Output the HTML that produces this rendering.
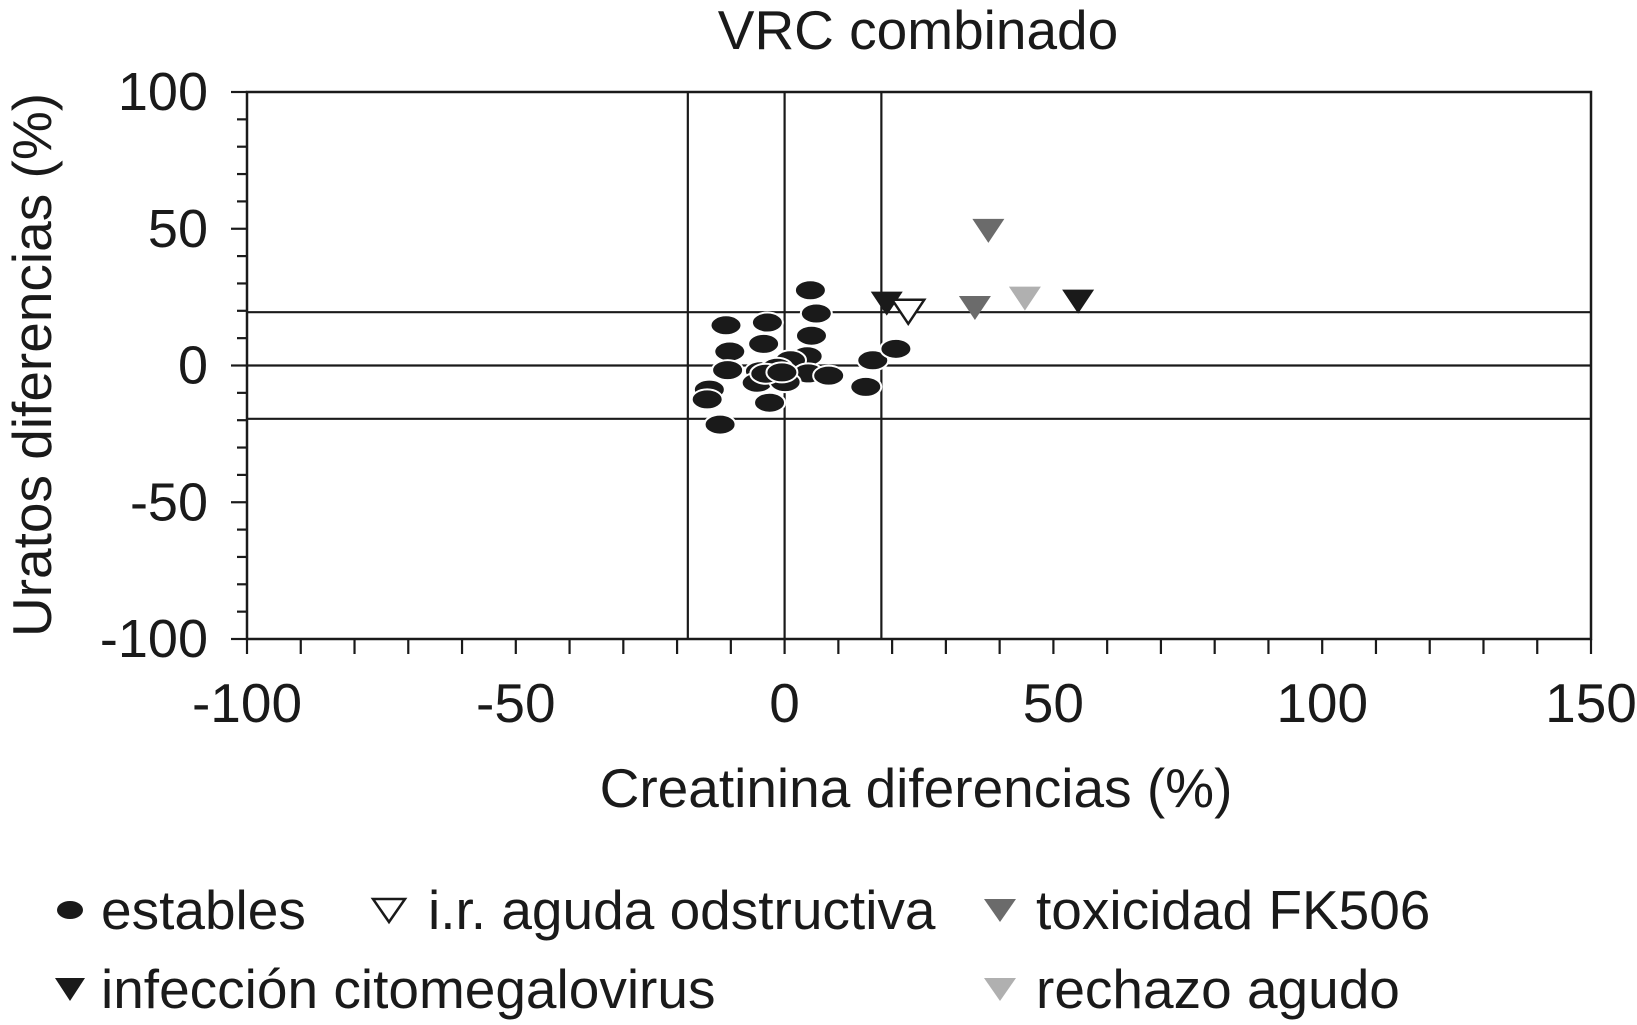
<!DOCTYPE html>
<html><head><meta charset="utf-8"><style>
html,body{margin:0;padding:0;background:#fff}
svg{display:block;font-family:"Liberation Sans",Arial,sans-serif}
</style></head><body>
<svg id="chart" width="1637" height="1025" viewBox="0 0 1637 1025">
<text x="918" y="49" font-size="55" text-anchor="middle" fill="#1a1a1a">VRC combinado</text>
<g id="plot"></g>
<text x="916" y="807" font-size="55" text-anchor="middle" fill="#1a1a1a">Creatinina diferencias (%)</text>
<text transform="translate(51,365) rotate(-90)" font-size="55" text-anchor="middle" fill="#1a1a1a">Uratos diferencias (%)</text>
<g font-size="55" fill="#1a1a1a">
 <g><ellipse cx="70" cy="910" rx="13" ry="9" fill="#1a1a1a"/><text x="101" y="929">estables</text></g>
 <g><polygon points="373,899 405,899 389,922" fill="#fff" stroke="#1a1a1a" stroke-width="2.5"/><text x="428" y="929">i.r. aguda odstructiva</text></g>
 <g><polygon points="984,899 1016,899 1000,922" fill="#6b6b6b"/><text x="1036" y="929">toxicidad FK506</text></g>
 <g><polygon points="55,978 85,978 70,1001" fill="#1a1a1a"/><text x="101" y="1008">infección citomegalovirus</text></g>
 <g><polygon points="984,978 1016,978 1000,1001" fill="#b0b0b0"/><text x="1036" y="1008">rechazo agudo</text></g>
</g>
</svg>
<script>
const estX=[4.8,5.9,-10.9,-3.2,5.0,-3.9,-10.2,4.2,1.1,16.4,20.7,-10.6,-4.5,-1.4,4.4,8.2,-5.1,0.1,15.1,-14,-14.4,-2.8,-12,-3.5,-0.5];
const estY=[27.5,19,14.7,15.7,10.9,7.9,5.1,3.4,1.9,1.9,6.1,-1.7,-2.1,-0.8,-2.9,-3.7,-6.3,-6.1,-7.8,-8.8,-12.4,-13.6,-21.6,-3.0,-2.5];
const irX=[23];const irY=[20];
const fkX=[37.9,35.4];const fkY=[49.6,21.4];
const cmvX=[19,54.6];const cmvY=[23,23.7];
const recX=[44.7];const recY=[24.8];
const xTicks=[-100,-50,0,50,100,150];
const yTicks=[100,50,0,-50,-100];
const vLines=[-18,0,18];
const hLines=[19.5,0,-19.5];

const L=247,R=1591,T=92,B=639;
const sx=v=>L+(v+100)/250*(R-L);
const sy=v=>B-(v+100)/200*(B-T);
const NS="http://www.w3.org/2000/svg";
const plot=document.getElementById('plot');
function mk(tag,attrs){const e=document.createElementNS(NS,tag);for(const k in attrs)e.setAttribute(k,attrs[k]);plot.appendChild(e);return e;}
let f=mk('rect',{x:L,y:T,width:R-L,height:B-T,fill:'none',stroke:'#1a1a1a','stroke-width':2.5});


vLines.forEach(v=>{const e=mk('line',{x1:sx(v),x2:sx(v),y1:T,y2:B,stroke:'#1a1a1a','stroke-width':2.2});

});
hLines.forEach(v=>{const e=mk('line',{x1:L,x2:R,y1:sy(v),y2:sy(v),stroke:'#1a1a1a','stroke-width':2.2});

});
for(let v=-100;v<=150;v+=10){const e=mk('line',{x1:sx(v),x2:sx(v),y1:B,y2:B+15,stroke:'#1a1a1a','stroke-width':2.2});

}
for(let v=-100;v<=100;v+=10){const e=mk('line',{x1:(v%50===0?L-16:L-10),x2:L,y1:sy(v),y2:sy(v),stroke:'#1a1a1a','stroke-width':2.2});

}
xTicks.forEach(v=>{const t=mk('text',{x:sx(v),y:722,'font-size':55,'text-anchor':'middle',fill:'#1a1a1a'});t.textContent=v;

});
yTicks.forEach(v=>{const t=mk('text',{x:208,y:sy(v)+18,'font-size':54,'text-anchor':'end',fill:'#1a1a1a'});t.textContent=v;

});
estX.forEach((x,i)=>{const e=mk('ellipse',{cx:sx(x),cy:sy(estY[i]),rx:15.5,ry:10,fill:'#1a1a1a',stroke:'#fff','stroke-width':2});

});
function tri(x,y,fill,stroke,name){const cx=sx(x),cy=sy(y);
const e=mk('polygon',{points:`${cx-16},${cy-11} ${cx+16},${cy-11} ${cx},${cy+13}`,fill:fill,stroke:stroke,'stroke-width':2.5});

}
cmvX.forEach((x,i)=>tri(x,cmvY[i],'#1a1a1a','none','point-cmv'));
irX.forEach((x,i)=>tri(x,irY[i],'#fff','#1a1a1a','point-ir-aguda'));
fkX.forEach((x,i)=>tri(x,fkY[i],'#6b6b6b','none','point-fk506'));
recX.forEach((x,i)=>tri(x,recY[i],'#b0b0b0','none','point-rechazo'));
</script>
</body></html>
